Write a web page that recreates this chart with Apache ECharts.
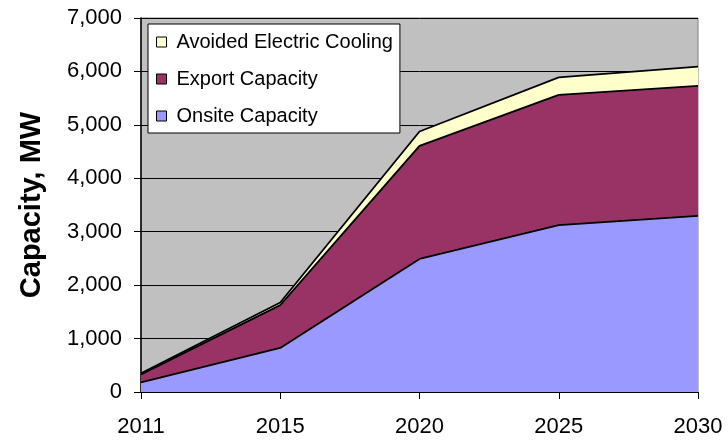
<!DOCTYPE html>
<html>
<head>
<meta charset="utf-8">
<script src="https://cdn.jsdelivr.net/npm/echarts@6/dist/echarts.min.js"></script>
<style>
  html, body { margin: 0; padding: 0; background: #ffffff; }
  #chart { width: 728px; height: 442px; }
</style>
</head>
<body>
<div id="chart"></div>
<script>
// Years on the horizontal axis
const years = ['2011', '2015', '2020', '2025', '2030'];

// Stacked capacity components, MW
const onsiteCapacity = [180, 825, 2490, 3125, 3295];
const exportCapacity = [150, 800, 2115, 2435, 2435];
const avoidedCooling = [20, 50, 270, 330, 360];

// Vertical axis range
const yMin = 0;
const yMax = 7000;
const yStep = 1000;

const FONT = '"Liberation Sans", Arial, sans-serif';

const chart = echarts.init(document.getElementById('chart'), null, { renderer: 'canvas' });

function areaSeries(name, values, fill) {
  return {
    name: name,
    type: 'line',
    stack: 'capacity',
    data: values,
    symbol: 'none',
    smooth: false,
    itemStyle: { color: fill },
    lineStyle: { color: '#000000', width: 1.8 },
    areaStyle: { color: fill, opacity: 1 },
    emphasis: { disabled: true },
    animation: false
  };
}

chart.setOption({
  animation: false,
  textStyle: { fontFamily: FONT },
  grid: {
    left: 141,
    right: 30,
    top: 18,
    bottom: 50,
    show: true,
    backgroundColor: '#C0C0C0',
    borderColor: '#808080',
    borderWidth: 1
  },
  legend: {
    left: 148,
    top: 24,
    orient: 'vertical',
    icon: 'rect',
    itemWidth: 10,
    itemHeight: 10,
    itemGap: 17,
    padding: [8, 7, 7, 8],
    backgroundColor: '#ffffff',
    borderColor: '#000000',
    borderWidth: 1,
    borderRadius: 0,
    selectedMode: false,
    textStyle: {
      fontFamily: FONT,
      fontSize: 20,
      color: '#000000',
      padding: [0, 0, 0, 5],
      lineHeight: 20
    },
    data: [
      { name: 'Avoided Electric Cooling', itemStyle: { color: '#FFFFCC', borderColor: '#000000', borderWidth: 1 } },
      { name: 'Export Capacity', itemStyle: { color: '#993366', borderColor: '#000000', borderWidth: 1 } },
      { name: 'Onsite Capacity', itemStyle: { color: '#9999FF', borderColor: '#000000', borderWidth: 1 } }
    ]
  },
  xAxis: {
    type: 'category',
    data: years,
    boundaryGap: false,
    axisLine: { show: true, lineStyle: { color: '#000000', width: 1 } },
    axisTick: { show: true, alignWithLabel: true, length: 7, lineStyle: { color: '#000000' } },
    axisLabel: {
      color: '#000000',
      fontFamily: FONT,
      fontSize: 22,
      margin: 24
    },
    splitLine: { show: false }
  },
  yAxis: {
    type: 'value',
    min: yMin,
    max: yMax,
    interval: yStep,
    name: 'Capacity, MW',
    nameLocation: 'middle',
    nameGap: 95,
    nameTextStyle: {
      fontFamily: FONT,
      fontSize: 29,
      fontWeight: 'bold',
      color: '#000000'
    },
    axisLine: { show: true, lineStyle: { color: '#000000', width: 1.5 } },
    axisTick: { show: true, length: 7, lineStyle: { color: '#000000' } },
    axisLabel: {
      color: '#000000',
      fontFamily: FONT,
      fontSize: 22,
      margin: 19,
      formatter: function (v) { return v.toLocaleString('en-US'); }
    },
    splitLine: { show: true, lineStyle: { color: '#000000', width: 1 } }
  },
  series: [
    areaSeries('Onsite Capacity', onsiteCapacity, '#9999FF'),
    areaSeries('Export Capacity', exportCapacity, '#993366'),
    areaSeries('Avoided Electric Cooling', avoidedCooling, '#FFFFCC')
  ]
});
</script>
</body>
</html>
